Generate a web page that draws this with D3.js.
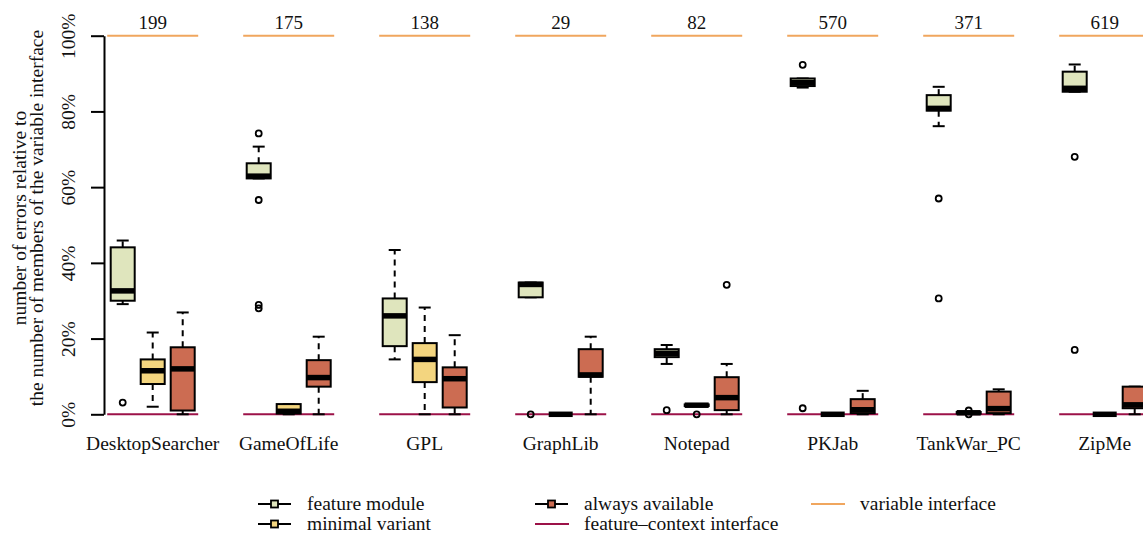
<!DOCTYPE html>
<html>
<head>
<meta charset="utf-8">
<script src="https://cdn.jsdelivr.net/npm/d3@7"></script>
<style>
  html, body { margin: 0; padding: 0; background: #fff; }
  svg { display: block; }
  text { font-family: "Liberation Serif", "Times New Roman", serif; fill: #111; }
</style>
</head>
<body>
<svg id="chart" width="1143" height="533"></svg>
<script>
// Product lines and the size of each variable interface
const groups = ["DesktopSearcher", "GameOfLife", "GPL", "GraphLib", "Notepad", "PKJab", "TankWar_PC", "ZipMe"];
const interfaceSizes = [199, 175, 138, 29, 82, 570, 371, 619];

const seriesNames = ["feature module", "minimal variant", "always available"];

// Box statistics in percent: [lower whisker, Q1, median, Q3, upper whisker]
const featureModule = [
  [29.1, 30.0, 32.6, 44.1, 45.9],
  [62.3, 62.3, 62.9, 66.3, 70.7],
  [14.5, 18.0, 26.0, 30.6, 43.4],
  [30.9, 30.9, 34.3, 34.8, 34.8],
  [13.3, 15.1, 16.1, 17.2, 18.3],
  [86.3, 86.7, 87.6, 88.7, 88.7],
  [76.1, 80.2, 80.8, 84.3, 86.5],
  [85.2, 85.2, 86.1, 90.5, 92.4]
];
const minimalVariant = [
  [2.0, 8.0, 11.5, 14.5, 21.6],
  [0.0, 0.2, 0.8, 2.7, 2.7],
  [0.0, 8.5, 14.5, 18.8, 28.2],
  [0.0, 0.0, 0.0, 0.0, 0.0],
  [2.2, 2.2, 2.4, 2.6, 2.6],
  [0.0, 0.0, 0.0, 0.0, 0.0],
  [0.2, 0.2, 0.4, 0.6, 0.6],
  [0.0, 0.0, 0.0, 0.0, 0.0]
];
const alwaysAvailable = [
  [0.0, 1.0, 12.0, 17.7, 26.9],
  [0.0, 7.3, 9.7, 14.3, 20.5],
  [0.0, 1.8, 9.4, 12.4, 20.9],
  [0.0, 9.9, 10.4, 17.2, 20.5],
  [0.0, 1.1, 4.4, 9.8, 13.3],
  [0.0, 0.3, 1.2, 4.0, 6.2],
  [0.0, 0.3, 1.5, 6.0, 6.6],
  [0.0, 1.6, 2.5, 7.3, 7.3]
];

// Outliers in percent, per product line
const featureOutliers = [[3.1], [74.2, 56.6, 28.9, 28.0], [], [0.0], [1.1], [92.3, 1.6], [57.0, 30.6], [68.0, 17.0]];
const minimalOutliers = [[], [], [], [], [0.0], [], [1.0, 0.0], []];
const alwaysOutliers = [[], [], [], [], [34.2], [], [], []];

const yTicks = [0, 20, 40, 60, 80, 100];

const fills = ["#dfe5bd", "#f3d57f", "#cc6c52"];
const variableColor = "#f0a65e";
const contextColor = "#9c1248";

const stats = [featureModule, minimalVariant, alwaysAvailable];
const outliers = [featureOutliers, minimalOutliers, alwaysOutliers];

const svg = d3.select("#chart");

const y = d3.scaleLinear().domain([0, 100]).range([414.3, 35.7]);
const x = d3.scaleBand().domain(groups).range([84.7, 1172.7]).padding(0);
const inner = d3.scaleBand().domain(seriesNames).range([-45, 45]).padding(0);
const boxW = inner.bandwidth() * 0.8;
const stapleW = boxW * 0.5;
const center = g => x(g) + x.bandwidth() / 2;
const halfRef = 45.5;

// y axis
const yAxis = d3.axisLeft(y).tickValues(yTicks).tickFormat(d => d + "%").tickSize(13).tickSizeOuter(0);
const ax = svg.append("g").attr("transform", "translate(104,0)").call(yAxis);
ax.select(".domain").attr("stroke", "#000").attr("stroke-width", 2);
ax.selectAll(".tick line").attr("stroke", "#000").attr("stroke-width", 2);
ax.selectAll(".tick text")
  .attr("x", null).attr("dy", null)
  .attr("transform", "translate(-29,0) rotate(-90)")
  .attr("text-anchor", "middle")
  .attr("font-size", 19.5)
  .style("font-family", "'Liberation Serif', serif")
  .attr("fill", "#111");

// y axis title
const yt = svg.append("g").attr("transform", "translate(0,218) rotate(-90)");
yt.append("text").attr("x", 0).attr("y", 26).attr("text-anchor", "middle").attr("font-size", 19.5)
  .text("number of errors relative to");
yt.append("text").attr("x", 0).attr("y", 43).attr("text-anchor", "middle").attr("font-size", 19.5)
  .text("the number of members of the variable interface");

// reference lines: variable interface (100%) and feature-context interface (0%)
const ref = svg.append("g");
ref.selectAll("line.var").data(groups).join("line")
  .attr("x1", g => center(g) - halfRef).attr("x2", g => center(g) + halfRef)
  .attr("y1", y(100)).attr("y2", y(100))
  .attr("stroke", variableColor).attr("stroke-width", 2);
ref.selectAll("line.ctx").data(groups).join("line")
  .attr("x1", g => center(g) - halfRef).attr("x2", g => center(g) + halfRef)
  .attr("y1", y(0)).attr("y2", y(0))
  .attr("stroke", contextColor).attr("stroke-width", 2);

// interface sizes above each group
svg.append("g").selectAll("text").data(groups).join("text")
  .attr("x", g => center(g)).attr("y", 29)
  .attr("text-anchor", "middle").attr("font-size", 19)
  .text((g, i) => interfaceSizes[i]);

// group labels
svg.append("g").selectAll("text").data(groups).join("text")
  .attr("x", g => center(g)).attr("y", 450)
  .attr("text-anchor", "middle").attr("font-size", 19.5)
  .text(g => g);

// boxplots
seriesNames.forEach((s, si) => {
  const layer = svg.append("g");
  groups.forEach((g, gi) => {
    const [lo, q1, med, q3, hi] = stats[si][gi];
    const cx = center(g) + inner(s) + inner.bandwidth() / 2;
    const b = layer.append("g");
    // whiskers (dashed) and staples
    if (hi > q3) {
      b.append("line").attr("x1", cx).attr("x2", cx).attr("y1", y(q3)).attr("y2", y(hi))
        .attr("stroke", "#000").attr("stroke-width", 2).attr("stroke-dasharray", "6,5");
    }
    if (lo < q1) {
      b.append("line").attr("x1", cx).attr("x2", cx).attr("y1", y(q1)).attr("y2", y(lo))
        .attr("stroke", "#000").attr("stroke-width", 2).attr("stroke-dasharray", "6,5");
    }
    [lo, hi].forEach(v => {
      b.append("line").attr("x1", cx - stapleW / 2).attr("x2", cx + stapleW / 2)
        .attr("y1", y(v)).attr("y2", y(v))
        .attr("stroke", "#000").attr("stroke-width", 2);
    });
    b.append("rect")
      .attr("x", cx - boxW / 2).attr("width", boxW)
      .attr("y", y(q3)).attr("height", Math.max(0, y(q1) - y(q3)))
      .attr("fill", fills[si]).attr("stroke", "#000").attr("stroke-width", 2);
    b.append("line").attr("x1", cx - boxW / 2).attr("x2", cx + boxW / 2)
      .attr("y1", y(med)).attr("y2", y(med))
      .attr("stroke", "#000").attr("stroke-width", 5.5);
    b.selectAll("circle").data(outliers[si][gi]).join("circle")
      .attr("cx", cx).attr("cy", v => y(v)).attr("r", 3)
      .attr("fill", "none").attr("stroke", "#000").attr("stroke-width", 1.8);
  });
});

// legend
const legend = svg.append("g");
const legendItems = [
  { label: "feature module", kind: "box", color: fills[0], x: 258, y: 504 },
  { label: "minimal variant", kind: "box", color: fills[1], x: 258, y: 524 },
  { label: "always available", kind: "box", color: fills[2], x: 535, y: 504 },
  { label: "feature\u2013context interface", kind: "line", color: contextColor, x: 535, y: 524 },
  { label: "variable interface", kind: "line", color: variableColor, x: 811, y: 504 }
];
legendItems.forEach(it => {
  const gl = legend.append("g").attr("transform", `translate(${it.x},${it.y})`);
  if (it.kind === "box") {
    gl.append("line").attr("x1", 0).attr("x2", 33).attr("y1", 0).attr("y2", 0)
      .attr("stroke", "#000").attr("stroke-width", 2);
    gl.append("rect").attr("x", 13).attr("y", -3.5).attr("width", 7).attr("height", 7)
      .attr("fill", it.color).attr("stroke", "#000").attr("stroke-width", 1.8);
  } else {
    gl.append("line").attr("x1", 0).attr("x2", 34).attr("y1", 0).attr("y2", 0)
      .attr("stroke", it.color).attr("stroke-width", 2);
  }
  gl.append("text").attr("x", 49).attr("y", 6).attr("font-size", 19.5).text(it.label);
});
</script>
</body>
</html>
